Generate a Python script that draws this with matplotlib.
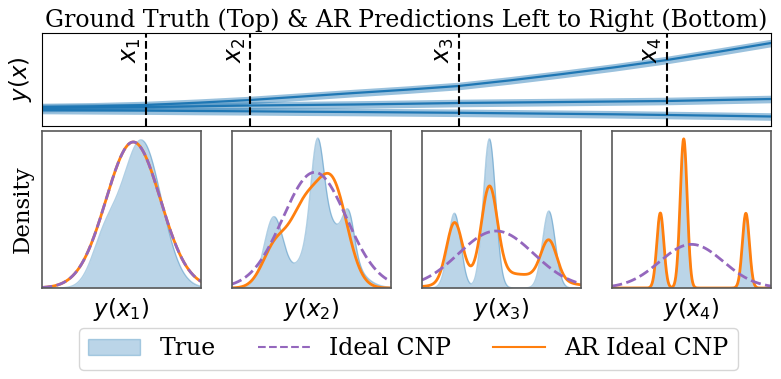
import numpy as np
import matplotlib
matplotlib.use("Agg")
import matplotlib.pyplot as plt
from matplotlib.patches import Patch
from matplotlib.lines import Line2D

plt.rcParams['font.family'] = 'DejaVu Serif'
plt.rcParams['mathtext.fontset'] = 'dejavusans'

# top panel: sample functions, three branches
grid_x = [0, 0.5, 1, 1.5, 2, 2.5, 3, 3.5, 4, 4.5, 5, 5.5, 6, 6.5, 7]
branch_top = [1.9, 1.97, 2.1, 2.33, 2.6, 2.95, 3.3, 3.63, 4.0, 4.57, 5.2, 5.87, 6.6, 7.43, 8.3]
branch_mid = [1.8, 1.85, 1.9, 1.97, 2.05, 2.1, 2.15, 2.22, 2.3, 2.35, 2.4, 2.45, 2.5, 2.6, 2.7]
branch_low = [1.6, 1.57, 1.54, 1.5, 1.47, 1.43, 1.4, 1.36, 1.32, 1.27, 1.22, 1.17, 1.1, 1.03, 0.95]
x_marks = [1, 2, 4, 6]
x_names = ['$x_1$', '$x_2$', '$x_3$', '$x_4$']

# bottom panels: density components (mean, sd, peak height), one list per panel
true_comps = [
    [(0.625, 0.125, 0.94), (0.39, 0.08, 0.25)],
    [(0.262, 0.06, 0.44), (0.536, 0.04, 0.58), (0.6, 0.13, 0.42), (0.735, 0.035, 0.25)],
    [(0.204, 0.04, 0.476), (0.424, 0.039, 0.95), (0.798, 0.04, 0.49)],
    [(0.304, 0.022, 0.478), (0.451, 0.022, 0.95), (0.842, 0.022, 0.476)],
]
cnp_comps = [
    [(0.574, 0.171, 0.93)],
    [(0.52, 0.2, 0.737)],
    [(0.466, 0.235, 0.363)],
    [(0.5, 0.2, 0.278)],
]
ar_comps = [
    [(0.574, 0.171, 0.93)],
    [(0.27, 0.08, 0.25), (0.45, 0.09, 0.45), (0.63, 0.095, 0.65)],
    [(0.55, 0.26, 0.09), (0.204, 0.05, 0.38), (0.424, 0.05, 0.57), (0.798, 0.05, 0.25)],
    [(0.304, 0.022, 0.478), (0.451, 0.022, 0.95), (0.842, 0.022, 0.476)],
]
panel_labels = ['$y(x_1)$', '$y(x_2)$', '$y(x_3)$', '$y(x_4)$']


def density(u, comps):
    d = np.zeros_like(u)
    for m, s, h in comps:
        d += h * np.exp(-0.5 * ((u - m) / s) ** 2)
    return d


fig = plt.figure(figsize=(7.81, 3.79), dpi=100)

ax = fig.add_axes([42 / 781, 253 / 379, 729 / 781, 93 / 379])
for branch in [branch_low, branch_mid, branch_top]:
    b = np.array(branch)
    ax.fill_between(grid_x, b - 0.38, b + 0.38, color='C0', alpha=0.45, lw=0)
    ax.plot(grid_x, b, color='C0', lw=1.6)
for xm, name in zip(x_marks, x_names):
    ax.axvline(xm, color='k', ls='--', lw=1.5)
    ax.annotate(name, xy=(xm, 1), xycoords=('data', 'axes fraction'),
                xytext=(-2, -3), textcoords='offset points',
                rotation=90, ha='right', va='top', fontsize=17)
ax.set_xlim(0, 7)
ax.set_ylim(0, 9.3)
ax.set_xticks([])
ax.set_yticks([])
ax.set_ylabel('$y(x)$', fontsize=16.5, labelpad=6)
ax.set_title('Ground Truth (Top) & AR Predictions Left to Right (Bottom)',
             fontsize=17.1, pad=4)

u = np.linspace(0, 1, 500)
lefts = [42, 232, 422, 612]
for i in range(4):
    a = fig.add_axes([lefts[i] / 781, 91 / 379, 159 / 781, 157 / 379])
    t = density(u, true_comps[i])
    a.fill_between(u, 0, t, color='C0', alpha=0.3, lw=0)
    a.plot(u, t, color='C0', alpha=0.35, lw=1)
    a.plot(u, density(u, ar_comps[i]), color='C1', lw=2)
    a.plot(u, density(u, cnp_comps[i]), color='C4', ls='--', lw=2)
    a.set_xlim(0, 1)
    a.set_ylim(0, 1)
    a.set_xticks([])
    a.set_yticks([])
    for sp in a.spines.values():
        sp.set_color('0.35')
        sp.set_linewidth(1.2)
    a.set_xlabel(panel_labels[i], fontsize=16.5, labelpad=6)
    if i == 0:
        a.set_ylabel('Density', fontsize=16.5, labelpad=6)

handles = [Patch(facecolor='C0', alpha=0.3, edgecolor='C0'),
           Line2D([], [], color='C4', ls='--', lw=1.5),
           Line2D([], [], color='C1', lw=1.5)]
fig.legend(handles, ['True', 'Ideal CNP', 'AR Ideal CNP'], loc='upper center',
           bbox_to_anchor=(0.523, 0.166), ncol=3, fontsize=17,
           columnspacing=1.8, handlelength=2.2)

fig.savefig('out.png', dpi=100)
